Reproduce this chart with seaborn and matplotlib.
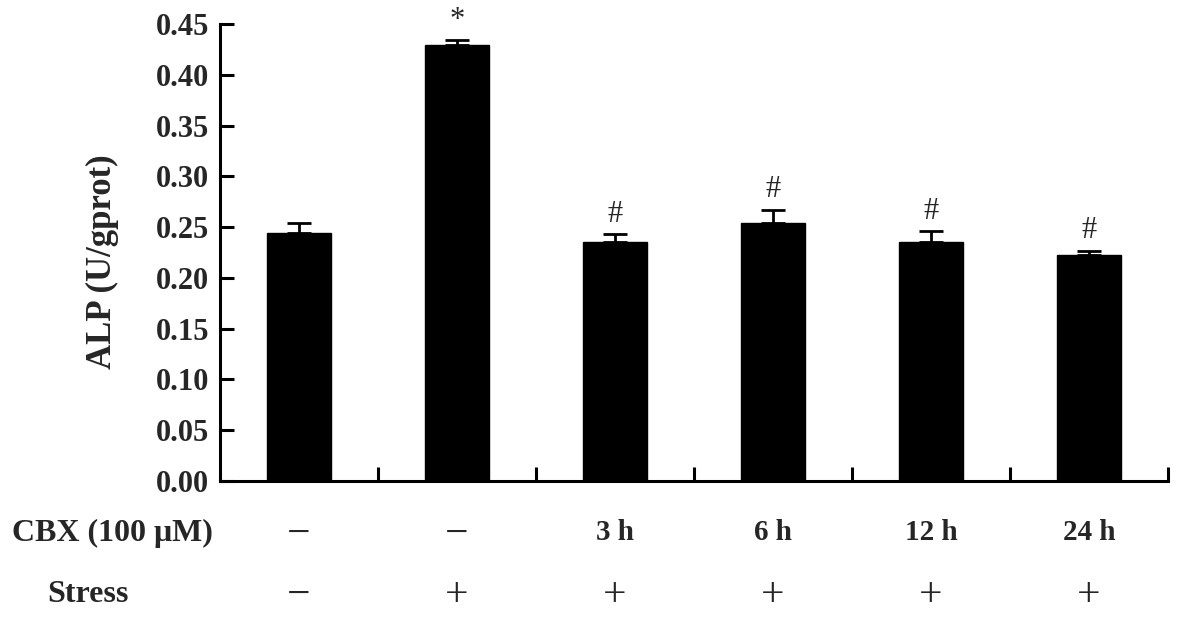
import numpy as np
import pandas as pd
import seaborn as sns
import matplotlib.pyplot as plt
from matplotlib.transforms import blended_transform_factory

# データ
groups = ["G1", "G2", "G3", "G4", "G5", "G6"]
alp = [0.244, 0.429, 0.235, 0.254, 0.235, 0.2225]
err = [0.010, 0.005, 0.008, 0.013, 0.011, 0.004]
marks = ["", "*", "#", "#", "#", "#"]
cbx_labels = ["\u2212", "\u2212", "3 h", "6 h", "12 h", "24 h"]
stress_labels = ["\u2212", "+", "+", "+", "+", "+"]
y_ticks = [0.00, 0.05, 0.10, 0.15, 0.20, 0.25, 0.30, 0.35, 0.40, 0.45]

sns.set_style("ticks")
plt.rcParams["font.family"] = ["Liberation Serif", "DejaVu Serif"]
plt.rcParams["font.weight"] = "bold"

df = pd.DataFrame({"group": groups, "alp": alp})

fig = plt.figure(figsize=(11.81, 6.22), dpi=100)
ax = fig.add_axes([0.1863, 0.2267, 0.8027, 0.7347])

sns.barplot(data=df, x="group", y="alp", color="black", edgecolor="black",
            width=0.41, saturation=1, errorbar=None, ax=ax)
ax.errorbar(np.arange(len(groups)), alp, yerr=[np.zeros(len(err)), err],
            fmt="none", ecolor="black", elinewidth=2, capsize=8.5, capthick=2)

# 有意差記号
for i, (v, e, m) in enumerate(zip(alp, err, marks)):
    if m:
        ax.annotate(m, (i, v + e), xytext=(0, 4), textcoords="offset points",
                    ha="center", va="bottom", fontsize=22, fontweight="normal")

ax.set_xlim(-0.5, 5.5)
ax.set_ylim(0, 0.45)
ax.set_yticks(y_ticks)
ax.set_yticklabels([f"{t:.2f}" for t in y_ticks], fontsize=22, fontweight="bold")
ax.set_xticks(np.arange(len(groups)) + 0.5)
ax.set_xticklabels([])
ax.tick_params(axis="both", direction="in", width=2.2, length=10, color="black")
ax.tick_params(axis="y", pad=8)
ax.set_xlabel("")
ax.set_ylabel("ALP (U/gprot)", fontsize=25, fontweight="bold")
ax.yaxis.label.set_verticalalignment("center")
ax.yaxis.set_label_coords((102 - 220) / (0.8027 * 1181), (481 - 262) / 457)
for s in ["left", "bottom"]:
    ax.spines[s].set_linewidth(2.2)
    ax.spines[s].set_color("black")
sns.despine(ax=ax)

# 下部の条件表
trans = blended_transform_factory(ax.transData, fig.transFigure)
for i, (c, s) in enumerate(zip(cbx_labels, stress_labels)):
    if c == "\u2212":
        ax.text(i, 1 - 535 / 622, c, transform=trans, ha="center", va="center",
                fontsize=30, fontweight="normal")
    else:
        ax.text(i, 1 - 533 / 622, c, transform=trans, ha="center", va="center",
                fontsize=21, fontweight="bold")
    ax.text(i, 1 - 596 / 622, s, transform=trans, ha="center", va="center",
            fontsize=30, fontweight="normal")
fig.text(112 / 1181, 1 - 533 / 622, "CBX (100 \u03bcM)", ha="center", va="center",
         fontsize=23, fontweight="bold")
fig.text(88 / 1181, 1 - 595 / 622, "Stress", ha="center", va="center",
         fontsize=23, fontweight="bold")

plt.savefig("out.png", dpi=100)
